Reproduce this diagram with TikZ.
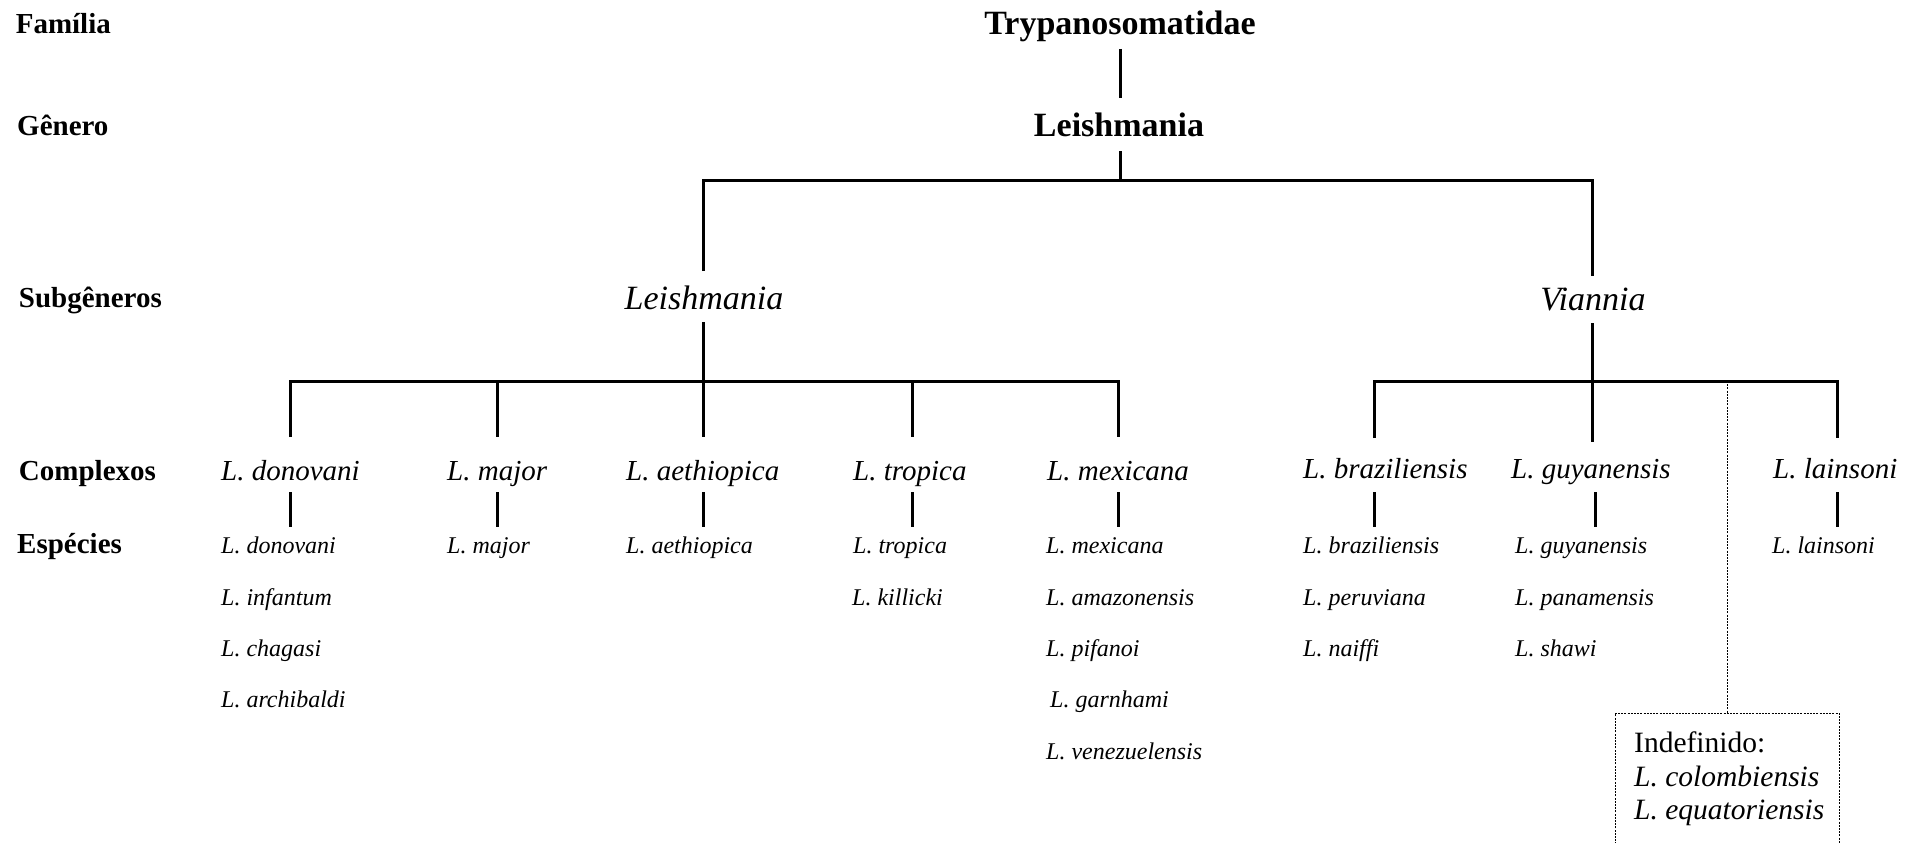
\documentclass[tikz,border=0pt]{standalone}
\usepackage{fontspec}
\setmainfont{Liberation Serif}
\begin{document}
\begin{tikzpicture}[x=1pt,y=-1pt,
  tree/.style={line width=3pt},
  dotline/.style={line width=1pt, dash pattern=on 2pt off 1.2pt},
  lab/.style={inner sep=0pt, anchor=base west, font=\fontsize{29}{34}\selectfont\bfseries},
  topname/.style={inner sep=0pt, anchor=base, font=\fontsize{34}{40}\selectfont\bfseries},
  subg/.style={inner sep=0pt, anchor=base, font=\fontsize{34}{40}\selectfont\itshape},
  cpx/.style={inner sep=0pt, anchor=base west, font=\fontsize{29}{34}\selectfont\itshape},
  spc/.style={inner sep=0pt, anchor=base west, font=\fontsize{24}{28}\selectfont\itshape},
  boxtxt/.style={inner sep=0pt, anchor=base west, font=\fontsize{29.5}{34}\selectfont},
]
\useasboundingbox (0,0) rectangle (1925,843);

% row labels
\node[lab] (lfam) at (15.6,33.5) {Família};
\node[lab] (lgen) at (17,135) {Gênero};
\node[lab] (lsub) at (18.8,307) {Subgêneros};
\node[lab] (lcpx) at (18.8,480) {Complexos};
\node[lab] (lesp) at (17,553) {Espécies};

% top names
\node[topname] (tryp) at (1120,34.5) {Trypanosomatidae};
\node[topname] (gen) at (1119,136.5) {Leishmania};

% subgenera
\node[subg] (sleish) at (704,309) {Leishmania};
\node[subg] (svian) at (1593,310) {Viannia};

% complexes
\node[cpx] (cdon) at (221,480) {L. donovani};
\node[cpx] (cmaj) at (447,480) {L. major};
\node[cpx] (caet) at (626,480) {L. aethiopica};
\node[cpx] (ctro) at (853,480) {L. tropica};
\node[cpx] (cmex) at (1047,480) {L. mexicana};
\node[cpx] (cbra) at (1303,478) {L. braziliensis};
\node[cpx] (cguy) at (1511,478) {L. guyanensis};
\node[cpx] (clai) at (1773,478) {L. lainsoni};

% species
\node[spc] (s1a) at (221,553) {L. donovani};
\node[spc] (s1b) at (221,605) {L. infantum};
\node[spc] (s1c) at (221,656) {L. chagasi};
\node[spc] (s1d) at (221,707) {L. archibaldi};
\node[spc] (s2a) at (447,553) {L. major};
\node[spc] (s3a) at (626,553) {L. aethiopica};
\node[spc] (s4a) at (853,553) {L. tropica};
\node[spc] (s4b) at (852,605) {L. killicki};
\node[spc] (s5a) at (1046,553) {L. mexicana};
\node[spc] (s5b) at (1046,605) {L. amazonensis};
\node[spc] (s5c) at (1046,656) {L. pifanoi};
\node[spc] (s5d) at (1050,707) {L. garnhami};
\node[spc] (s5e) at (1046,759) {L. venezuelensis};
\node[spc] (s6a) at (1303,553) {L. braziliensis};
\node[spc] (s6b) at (1303,605) {L. peruviana};
\node[spc] (s6c) at (1303,656) {L. naiffi};
\node[spc] (s7a) at (1515,553) {L. guyanensis};
\node[spc] (s7b) at (1515,605) {L. panamensis};
\node[spc] (s7c) at (1515,656) {L. shawi};
\node[spc] (s8a) at (1772,553) {L. lainsoni};

% undefined box
\node[boxtxt] (ind1) at (1634,752) {Indefinido:};
\node[boxtxt] (ind2) at (1634,786) {\itshape L. colombiensis};
\node[boxtxt] (ind3) at (1634,819) {\itshape L. equatoriensis};

% connector coordinates
\coordinate (t1) at (1120,49);  \coordinate (t2) at (1120,98);
\coordinate (g1) at (1120,151); \coordinate (g2) at (1120,180);
\coordinate (bl) at (703,271);  \coordinate (br) at (1592,276);
\coordinate (sl1) at (703,322); \coordinate (sl2) at (703,381);
\coordinate (sv1) at (1592,323); \coordinate (sv2) at (1592,381);
\coordinate (dv1) at (1727,381); \coordinate (dv2) at (1727,713);

\draw[tree] (t1) -- (t2);
\draw[tree] (g1) -- (g2);
\draw[tree] (bl) -- (703,180) -- (1592,180) -- (br);

% Leishmania subgenus
\draw[tree] (sl1) -- (sl2);
\draw[tree] (290,437) -- (290,381) -- (1118,381) -- (1118,437);
\draw[tree] (497,381) -- (497,437);
\draw[tree] (703,381) -- (703,437);
\draw[tree] (912,381) -- (912,437);

% Viannia subgenus
\draw[tree] (sv1) -- (sv2);
\draw[tree] (1374,438) -- (1374,381) -- (1837,381) -- (1837,438);
\draw[tree] (1592,381) -- (1592,442);

% complex to species
\foreach \x in {290,497,703,912,1118,1374,1595,1837}
  \draw[tree] (\x,492) -- (\x,527);

% dotted link and box
\draw[dotline] (dv1) -- (dv2);
\draw[dotline] (1615,870) -- (1615,713) -- (1839,713) -- (1839,870);
\end{tikzpicture}
\end{document}
